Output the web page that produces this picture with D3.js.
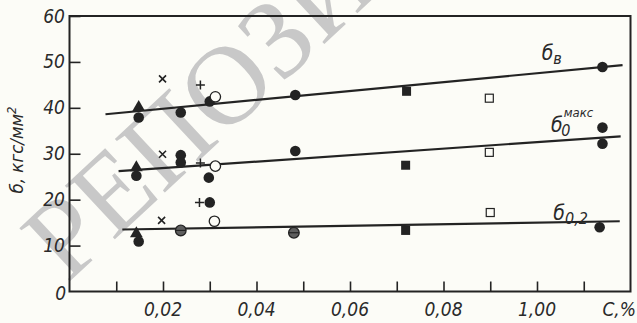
<!DOCTYPE html>
<html><head><meta charset="utf-8">
<script src="https://cdn.jsdelivr.net/npm/d3@7"></script>
<style>
html,body{margin:0;padding:0;background:#fcfcf7;}
svg{display:block;}
.t{font-family:"Liberation Sans Narrow","DejaVu Sans Condensed",sans-serif;font-style:italic;fill:#2a2a2a;}
</style></head><body>
<svg id="c" width="637" height="323"></svg>
<script>
// ---- data ----
const xTicks = [0.01,0.02,0.03,0.04,0.05,0.06,0.07,0.08,0.09,0.10,0.11];
const xTickLabels = ["0,02","0,04","0,06","0,08","1,00"];
const xLabelValues = [0.02,0.04,0.06,0.08,0.10];
const yTicks = [10,20,30,40,50,60];
const filledCircles = [[0.0148,37.9],[0.0238,39.0],[0.0300,41.4],[0.0483,42.8],[0.1140,48.9],
  [0.0143,25.2],[0.0238,29.7],[0.0238,28.1],[0.0298,24.8],[0.0300,19.4],[0.0483,30.6],[0.1140,35.7],[0.1140,32.2],
  [0.0148,10.9],[0.1134,14.0]];
const grayCircles = [[0.0238,13.3],[0.0480,12.8]];
const triangles = [[0.0148,40.1],[0.0143,27.0],[0.0143,12.6]];
const crosses = [[0.0199,46.3],[0.0199,29.9],[0.0197,15.5]];
const pluses = [[0.0280,45.0],[0.0280,28.0],[0.0278,19.4]];
const openCircles = [[0.0312,42.4],[0.0312,27.3],[0.0310,15.3]];
const filledSquares = [[0.0721,43.6],[0.0719,27.5],[0.0719,13.3]];
const openSquares = [[0.0898,42.1],[0.0898,30.3],[0.0900,17.2]];
const lineSigmaB = [[0.0077,38.6],[0.1183,49.3]];
const lineSigmaMax = [[0.0105,26.2],[0.1179,33.8]];
const lineSigma02 = [[0.0113,13.5],[0.1177,15.3]];

const svg = d3.select("#c");
const ink = "#232323";
const paper = "#fcfcf7";
const x = d3.scaleLinear().domain([0,0.12]).range([69.5,630.5]);
const y = d3.scaleLinear().domain([0,60]).range([291.5,16]);

// watermark
svg.append("text").attr("transform","translate(67,284) rotate(-43)")
  .attr("font-family","Liberation Serif").attr("font-size",112)
  .attr("fill","#c8c8c8").text("РЕПОЗИТОРИЙ");

// frame
svg.append("rect").attr("x",x(0)).attr("y",y(60)).attr("width",x(0.12)-x(0)).attr("height",y(0)-y(60))
  .attr("fill","none").attr("stroke",ink).attr("stroke-width",2);

// x axis ticks (inside)
const xa = svg.append("g").attr("transform",`translate(0,${y(0)})`)
  .call(d3.axisBottom(x).tickValues(xTicks).tickSize(-10).tickFormat(""));
xa.select(".domain").remove();
xa.selectAll("line").attr("stroke",ink).attr("stroke-width",1.6);
svg.selectAll(".xl").data(xLabelValues).enter().append("text").attr("class","t")
  .attr("x",d=>x(d)).attr("y",316).attr("text-anchor","middle").attr("font-size",19)
  .text((d,i)=>xTickLabels[i]);
svg.append("text").attr("class","t").attr("x",636).attr("y",316).attr("text-anchor","end").attr("font-size",19).text("C,%");

// y axis ticks (inside)
const ya = svg.append("g").attr("transform",`translate(${x(0)},0)`)
  .call(d3.axisLeft(y).tickValues(yTicks).tickSize(-11).tickFormat(""));
ya.select(".domain").remove();
ya.selectAll("line").attr("stroke",ink).attr("stroke-width",1.6);
svg.selectAll(".yl").data(yTicks).enter().append("text").attr("class","t")
  .attr("x",65).attr("y",d=>y(d)+6.5).attr("text-anchor","end").attr("font-size",19).text(d=>d);
svg.append("text").attr("class","t").attr("x",66).attr("y",300).attr("text-anchor","end").attr("font-size",19).text("0");
svg.append("text").attr("class","t").attr("transform","translate(23,150) rotate(-90)")
  .attr("text-anchor","middle").attr("font-size",18.5).html("б, кгс/мм<tspan dy='-7' font-size='13'>2</tspan>");

// regression lines
const line = d3.line().x(d=>x(d[0])).y(d=>y(d[1]));
[lineSigmaB,lineSigmaMax,lineSigma02].forEach(l=>{
  svg.append("path").attr("d",line(l)).attr("fill","none").attr("stroke",ink).attr("stroke-width",2.2);
});

// line labels
function lab(xv,yv,main,sub,sup){
  const t = svg.append("text").attr("class","t").attr("x",x(xv)).attr("y",y(yv)).attr("font-size",21);
  t.append("tspan").text(main);
  if(sup){ t.append("tspan").attr("dx",1).attr("dy",-15).attr("font-size",13).text(sup);
           t.append("tspan").attr("dx",-32).attr("dy",19).attr("font-size",16).text(sub); }
  else t.append("tspan").attr("dy",4).attr("font-size",16).text(sub);
}
lab(0.1010,50.4,"б","в");
lab(0.1030,34.7,"б","0","макс");
lab(0.1035,15.6,"б","0,2");

// markers
const g = svg.append("g");
g.selectAll(".fc").data(filledCircles).enter().append("circle")
  .attr("cx",d=>x(d[0])).attr("cy",d=>y(d[1])).attr("r",5.3).attr("fill",ink);
g.selectAll(".gc").data(grayCircles).enter().append("circle")
  .attr("cx",d=>x(d[0])).attr("cy",d=>y(d[1])).attr("r",5.3).attr("fill","#5e5e5e").attr("stroke",ink).attr("stroke-width",1.3);
g.selectAll(".gcl").data(grayCircles).enter().append("line")
  .attr("x1",d=>x(d[0])-5).attr("x2",d=>x(d[0])+5).attr("y1",d=>y(d[1])).attr("y2",d=>y(d[1])).attr("stroke",ink).attr("stroke-width",1.2);
g.selectAll(".oc").data(openCircles).enter().append("circle")
  .attr("cx",d=>x(d[0])).attr("cy",d=>y(d[1])).attr("r",5.2).attr("fill",paper).attr("stroke",ink).attr("stroke-width",1.3);
const tri = d3.symbol().type(d3.symbolTriangle).size(70);
g.selectAll(".tr").data(triangles).enter().append("path").attr("d",tri)
  .attr("transform",d=>`translate(${x(d[0])},${y(d[1])})`).attr("fill",ink);
g.selectAll(".fs").data(filledSquares).enter().append("rect")
  .attr("x",d=>x(d[0])-4.5).attr("y",d=>y(d[1])-4.5).attr("width",9).attr("height",9).attr("fill",ink);
g.selectAll(".os").data(openSquares).enter().append("rect")
  .attr("x",d=>x(d[0])-4).attr("y",d=>y(d[1])-4).attr("width",8).attr("height",8).attr("fill",paper).attr("stroke",ink).attr("stroke-width",1.2);
g.selectAll(".crl").data(crosses).enter().append("path")
  .attr("d",d=>{const cx=x(d[0]),cy=y(d[1]),s=3.5;return `M${cx-s},${cy-s}L${cx+s},${cy+s}M${cx-s},${cy+s}L${cx+s},${cy-s}`;})
  .attr("stroke",ink).attr("stroke-width",1.6);
g.selectAll(".pl").data(pluses).enter().append("path")
  .attr("d",d=>{const cx=x(d[0]),cy=y(d[1]),s=4.5;return `M${cx-s},${cy}L${cx+s},${cy}M${cx},${cy-s}L${cx},${cy+s}`;})
  .attr("stroke",ink).attr("stroke-width",1.5);
</script></body></html>
